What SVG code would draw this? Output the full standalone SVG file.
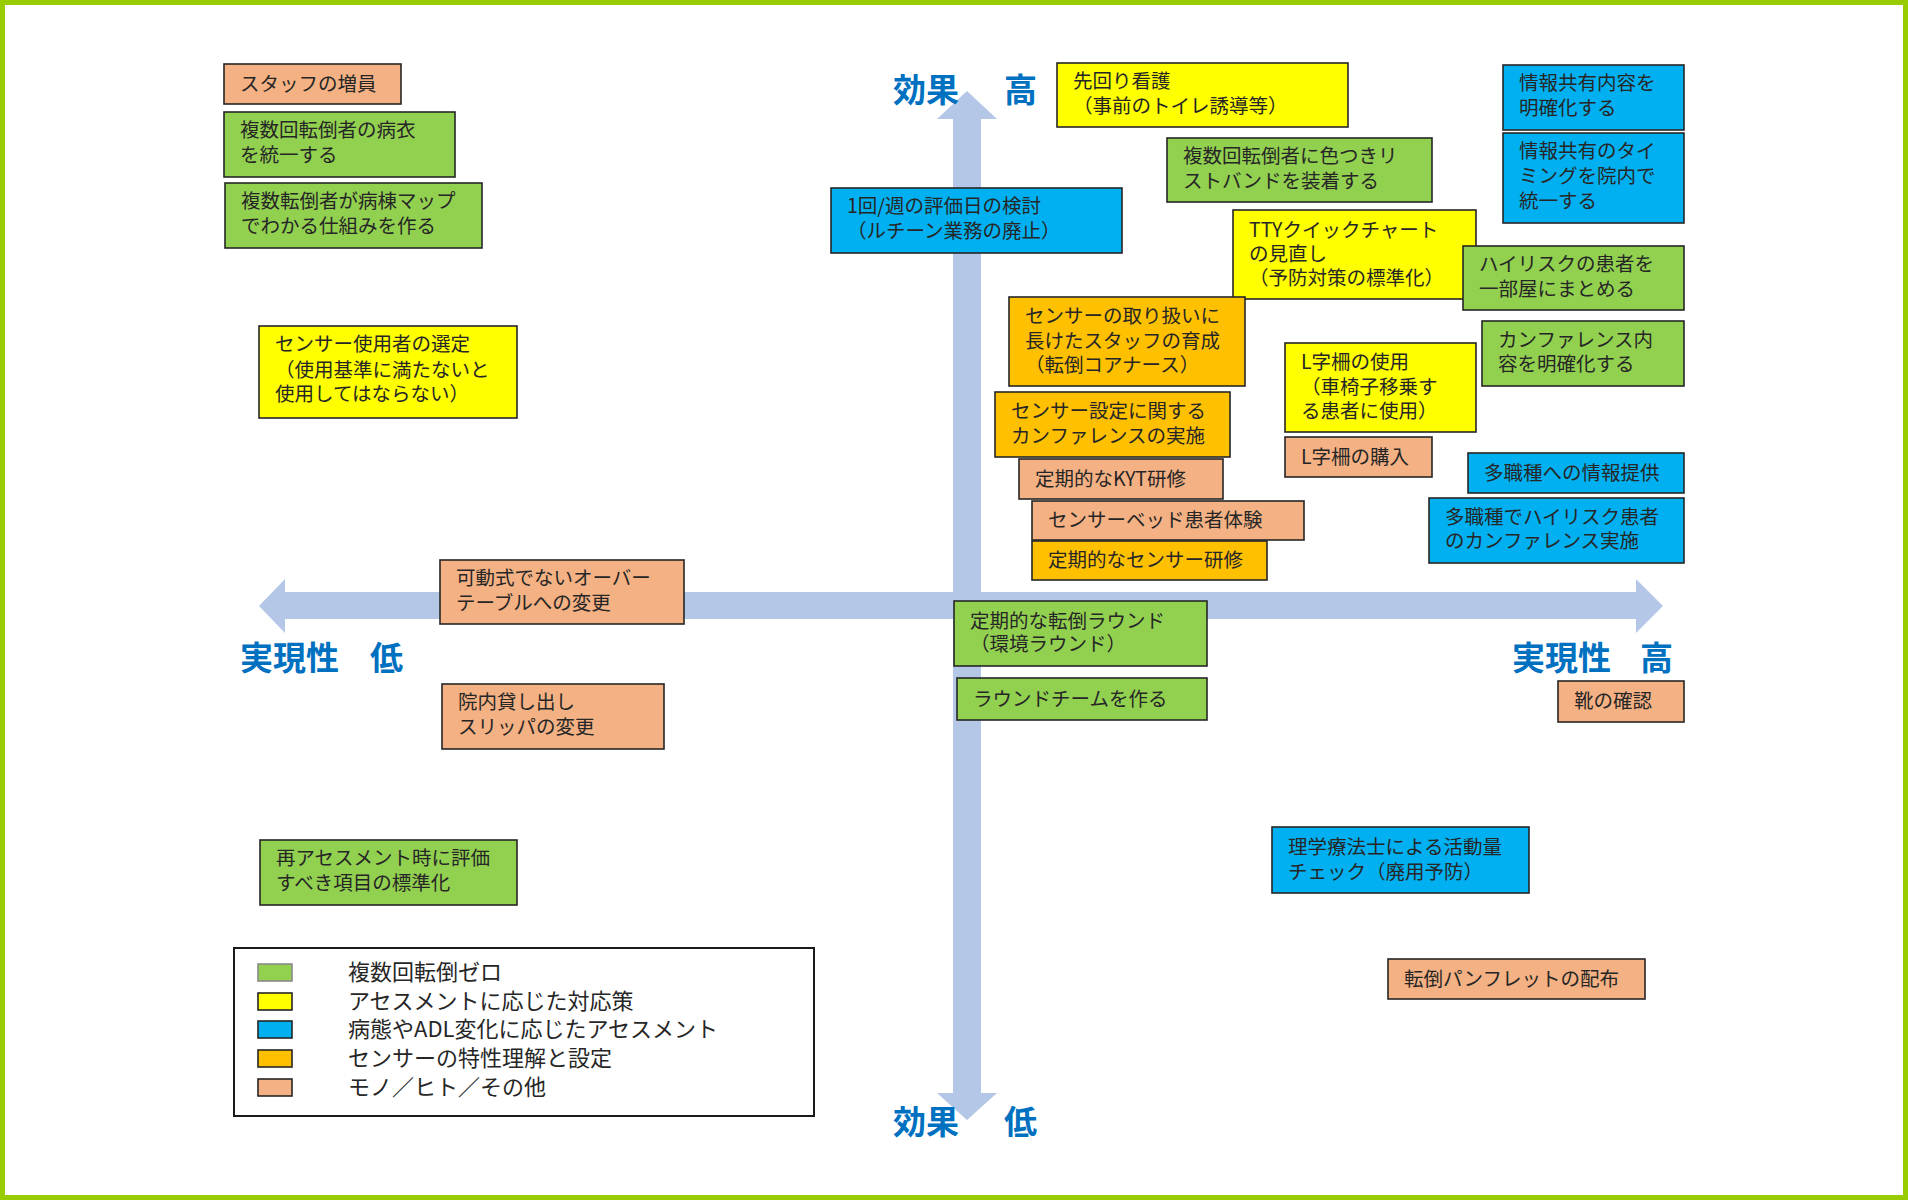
<svg xmlns="http://www.w3.org/2000/svg" width="1908" height="1200" viewBox="0 0 1908 1200">
<style>
.b{stroke:#262626;stroke-width:1.6}
.g{fill:#92d050}.y{fill:#ffff00}.bl{fill:#00b0f0}.o{fill:#ffc000}.s{fill:#f4b183}
text{font-family:"Noto Sans CJK JP","Noto Sans",sans-serif;fill:#262626}
.t{font-size:19.5px}
.lg{font-size:22px}
.ax{font-size:33px;font-weight:bold;fill:#0070c0}
</style>
<rect x="0" y="0" width="1908" height="1200" fill="#ffffff"/>
<rect x="2.5" y="2.5" width="1903" height="1195" fill="none" stroke="#99cc00" stroke-width="5"/>
<g id="connectors" fill="#b4c7e7">
<polygon points="967,91 997,119 981,119 981,1093 997,1093 967,1120 937,1093 953,1093 953,119 937,119"/>
<polygon points="259,606 285,579 285,592 1636,592 1636,579 1663,606 1636,633 1636,619 285,619 285,633"/>
</g>
<g id="axis-labels">
<text class="ax" x="893" y="102">効果</text><text class="ax" x="1004" y="102">高</text>
<text class="ax" x="893" y="1134">効果</text><text class="ax" x="1004" y="1134">低</text>
<text class="ax" x="240" y="670">実現性</text><text class="ax" x="370" y="670">低</text>
<text class="ax" x="1512" y="670">実現性</text><text class="ax" x="1640" y="670">高</text>
</g>
<g id="n1"><rect class="b s" x="224" y="64" width="177" height="40"/><text class="t" x="240" y="91">スタッフの増員</text></g>
<g id="n2"><rect class="b g" x="224" y="112" width="231" height="65"/><text class="t" x="240" y="137">複数回転倒者の病衣</text><text class="t" x="240" y="162">を統一する</text></g>
<g id="n3"><rect class="b g" x="225" y="183" width="257" height="65"/><text class="t" x="241" y="208">複数転倒者が病棟マップ</text><text class="t" x="241" y="233">でわかる仕組みを作る</text></g>
<g id="n4"><rect class="b y" x="259" y="326" width="258" height="92"/><text class="t" x="275" y="351">センサー使用者の選定</text><text class="t" x="275" y="377">（使用基準に満たないと</text><text class="t" x="275" y="401">使用してはならない）</text></g>
<g id="n5"><rect class="b s" x="440" y="560" width="244" height="64"/><text class="t" x="456" y="585">可動式でないオーバー</text><text class="t" x="456" y="610">テーブルへの変更</text></g>
<g id="n6"><rect class="b s" x="442" y="684" width="222" height="65"/><text class="t" x="458" y="709">院内貸し出し</text><text class="t" x="458" y="734">スリッパの変更</text></g>
<g id="n7"><rect class="b g" x="260" y="840" width="257" height="65"/><text class="t" x="276" y="865">再アセスメント時に評価</text><text class="t" x="276" y="890">すべき項目の標準化</text></g>
<g id="n8"><rect class="b bl" x="831" y="188" width="291" height="65"/><text class="t" x="847" y="213">1回/週の評価日の検討</text><text class="t" x="847" y="238">（ルチーン業務の廃止）</text></g>
<g id="n9"><rect class="b y" x="1057" y="63" width="291" height="64"/><text class="t" x="1073" y="88">先回り看護</text><text class="t" x="1073" y="113">（事前のトイレ誘導等）</text></g>
<g id="n10"><rect class="b g" x="1167" y="138" width="265" height="64"/><text class="t" x="1183" y="163">複数回転倒者に色つきリ</text><text class="t" x="1183" y="188">ストバンドを装着する</text></g>
<g id="n11"><rect class="b bl" x="1503" y="65" width="181" height="65"/><text class="t" x="1519" y="90">情報共有内容を</text><text class="t" x="1519" y="115">明確化する</text></g>
<g id="n12"><rect class="b bl" x="1503" y="133" width="181" height="90"/><text class="t" x="1519" y="158">情報共有のタイ</text><text class="t" x="1519" y="183">ミングを院内で</text><text class="t" x="1519" y="208">統一する</text></g>
<g id="n13"><rect class="b y" x="1233" y="210" width="243" height="89"/><text class="t" x="1249" y="237">TTYクイックチャート</text><text class="t" x="1249" y="261">の見直し</text><text class="t" x="1249" y="285">（予防対策の標準化）</text></g>
<g id="n14"><rect class="b g" x="1463" y="246" width="221" height="64"/><text class="t" x="1479" y="271">ハイリスクの患者を</text><text class="t" x="1479" y="296">一部屋にまとめる</text></g>
<g id="n15"><rect class="b o" x="1009" y="297" width="236" height="89"/><text class="t" x="1025" y="323">センサーの取り扱いに</text><text class="t" x="1025" y="348">長けたスタッフの育成</text><text class="t" x="1025" y="372">（転倒コアナース）</text></g>
<g id="n16"><rect class="b g" x="1482" y="321" width="202" height="65"/><text class="t" x="1498" y="347">カンファレンス内</text><text class="t" x="1498" y="371">容を明確化する</text></g>
<g id="n17"><rect class="b y" x="1285" y="343" width="191" height="89"/><text class="t" x="1301" y="369">L字柵の使用</text><text class="t" x="1301" y="394">（車椅子移乗す</text><text class="t" x="1301" y="418">る患者に使用）</text></g>
<g id="n18"><rect class="b o" x="995" y="392" width="235" height="65"/><text class="t" x="1011" y="418">センサー設定に関する</text><text class="t" x="1011" y="443">カンファレンスの実施</text></g>
<g id="n19"><rect class="b s" x="1285" y="437" width="147" height="40"/><text class="t" x="1301" y="464">L字柵の購入</text></g>
<g id="n20"><rect class="b s" x="1019" y="459" width="204" height="40"/><text class="t" x="1035" y="486">定期的なKYT研修</text></g>
<g id="n21"><rect class="b bl" x="1468" y="453" width="216" height="40"/><text class="t" x="1484" y="480">多職種への情報提供</text></g>
<g id="n22"><rect class="b s" x="1032" y="501" width="272" height="39"/><text class="t" x="1048" y="527">センサーベッド患者体験</text></g>
<g id="n23"><rect class="b bl" x="1429" y="498" width="255" height="65"/><text class="t" x="1445" y="524">多職種でハイリスク患者</text><text class="t" x="1445" y="548">のカンファレンス実施</text></g>
<g id="n24"><rect class="b o" x="1032" y="541" width="235" height="39"/><text class="t" x="1048" y="567">定期的なセンサー研修</text></g>
<g id="n25"><rect class="b g" x="954" y="601" width="253" height="65"/><text class="t" x="970" y="628">定期的な転倒ラウンド</text><text class="t" x="970" y="651">（環境ラウンド）</text></g>
<g id="n26"><rect class="b g" x="957" y="678" width="250" height="42"/><text class="t" x="973" y="706">ラウンドチームを作る</text></g>
<g id="n27"><rect class="b s" x="1558" y="681" width="126" height="41"/><text class="t" x="1574" y="708">靴の確認</text></g>
<g id="n28"><rect class="b bl" x="1272" y="827" width="257" height="66"/><text class="t" x="1288" y="854">理学療法士による活動量</text><text class="t" x="1288" y="879">チェック（廃用予防）</text></g>
<g id="n29"><rect class="b s" x="1388" y="959" width="257" height="40"/><text class="t" x="1404" y="986">転倒パンフレットの配布</text></g>
<g id="legend">
<rect x="234" y="948" width="580" height="168" fill="#fff" stroke="#1a1a1a" stroke-width="2"/>
<rect x="258" y="964" width="34" height="17" class="g" stroke="#8a8a8a" stroke-width="1.6"/>
<rect x="258" y="993" width="34" height="17" class="y b"/>
<rect x="258" y="1021" width="34" height="17" class="bl b"/>
<rect x="258" y="1050" width="34" height="17" class="o b"/>
<rect x="258" y="1079" width="34" height="17" class="s b"/>
<text class="lg" x="348" y="980">複数回転倒ゼロ</text>
<text class="lg" x="348" y="1009">アセスメントに応じた対応策</text>
<text class="lg" x="348" y="1037">病態やADL変化に応じたアセスメント</text>
<text class="lg" x="348" y="1066">センサーの特性理解と設定</text>
<text class="lg" x="348" y="1095">モノ／ヒト／その他</text>
</g>
</svg>
